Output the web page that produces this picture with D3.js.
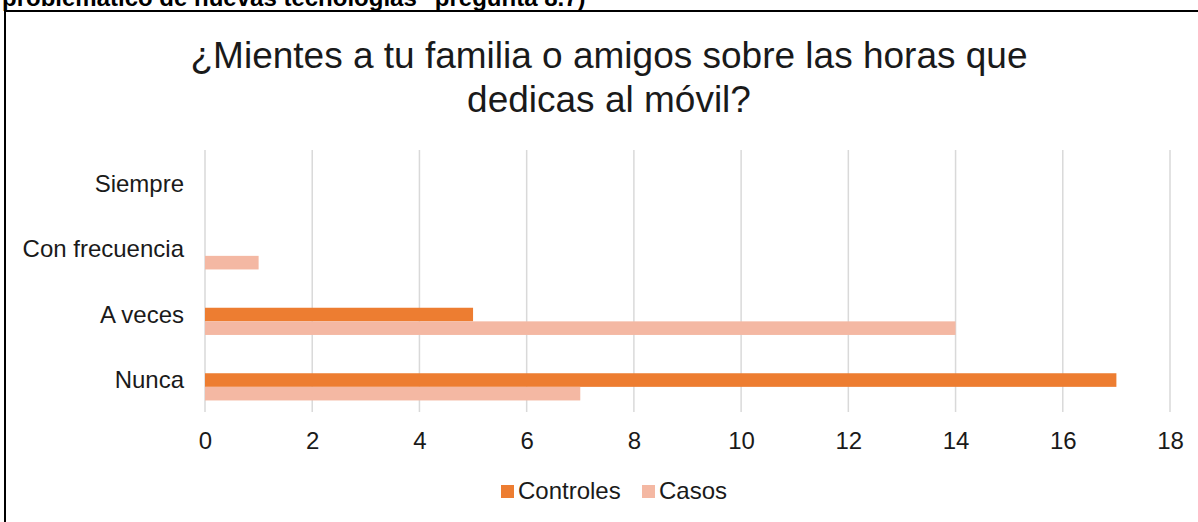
<!DOCTYPE html>
<html>
  <head>
    <meta charset="utf-8">
    <script type="text/javascript" src="https://cdn.jsdelivr.net/npm/d3@7"></script>
    <style>
      body { margin: 0; background: #fff; }
      text { font-family: "Liberation Sans", Arial, sans-serif; }
    </style>
  </head>
  <body>
    <script type="text/javascript">

var categories = ["Siempre", "Con frecuencia", "A veces", "Nunca"];
var controles = [0, 0, 5, 17];
var casos = [0, 1, 14, 7];
var seriesNames = ["Controles", "Casos"];
var xTicks = [0, 2, 4, 6, 8, 10, 12, 14, 16, 18];

var w = 1198;
var h = 522;
var colors = ["#ED7D31", "#F4B8A3"];
var font = "'Liberation Sans', Arial, sans-serif";

var svg =
  d3.select("body")
    .append("svg")
    .attr("width", w)
    .attr("height", h);

// heading cut off by the crop
svg.append("text")
  .attr("x", 2)
  .attr("y", 6)
  .style("font-size", "24px")
  .style("font-weight", "bold")
  .style("fill", "#000")
  .text("problemático de nuevas tecnologías\" pregunta 8.7)");

// chart frame
svg.append("rect")
  .attr("x", 5)
  .attr("y", 11)
  .attr("width", 1200)
  .attr("height", 520)
  .style("fill", "none")
  .style("stroke", "#000")
  .style("stroke-width", 2);

// title
var title = svg.append("text")
  .attr("text-anchor", "middle")
  .style("font-size", "37px")
  .style("fill", "#1a1a1a");
title.append("tspan").attr("x", 609).attr("y", 68)
  .text("¿Mientes a tu familia o amigos sobre las horas que");
title.append("tspan").attr("x", 609).attr("y", 112)
  .text("dedicas al móvil?");

var x = d3.scaleLinear().domain([0, 18]).range([205, 1170]);
var y = d3.scaleBand().domain(categories).range([150, 412]);

// gridlines
svg.selectAll("line.grid")
  .data(xTicks)
  .enter()
  .append("line")
  .attr("class", "grid")
  .attr("x1", function(d) { return x(d); })
  .attr("x2", function(d) { return x(d); })
  .attr("y1", 150)
  .attr("y2", 412)
  .style("stroke", "#d9d9d9")
  .style("stroke-width", 1.5);

// x axis labels
var xAxis = d3.axisBottom(x).tickValues(xTicks).tickSize(0).tickPadding(0);
var gx = svg.append("g")
  .attr("transform", "translate(0,449)")
  .call(xAxis);
gx.select(".domain").remove();
gx.selectAll("text")
  .attr("y", 0)
  .attr("dy", 0)
  .style("font-size", "24px")
  .style("font-family", font)
  .style("fill", "#1a1a1a");

// category labels
var yAxis = d3.axisLeft(y).tickSize(0).tickPadding(0);
var gy = svg.append("g")
  .attr("transform", "translate(184,0)")
  .call(yAxis);
gy.select(".domain").remove();
gy.selectAll("text")
  .attr("dy", "0.38em")
  .style("font-size", "24px")
  .style("font-family", font)
  .style("fill", "#1a1a1a");

// bars
var barH = 13.6;
var series = [controles, casos];
series.forEach(function(vals, si) {
  svg.selectAll("rect.s" + si)
    .data(vals)
    .enter()
    .append("rect")
    .attr("class", "s" + si)
    .attr("x", x(0))
    .attr("y", function(d, i) {
      return y(categories[i]) + y.bandwidth() / 2 - 6 + si * barH;
    })
    .attr("width", function(d) { return x(d) - x(0); })
    .attr("height", barH)
    .style("fill", colors[si]);
});

// legend
var legendX = [501, 642];
var legend = svg.selectAll("g.legend")
  .data(seriesNames)
  .enter()
  .append("g")
  .attr("class", "legend")
  .attr("transform", function(d, i) { return "translate(" + legendX[i] + ",485)"; });
legend.append("rect")
  .attr("width", 13)
  .attr("height", 13)
  .style("fill", function(d, i) { return colors[i]; });
legend.append("text")
  .attr("x", 17)
  .attr("y", 13.5)
  .style("font-size", "24px")
  .style("fill", "#1a1a1a")
  .text(function(d) { return d; });

    </script>
  </body>
</html>
